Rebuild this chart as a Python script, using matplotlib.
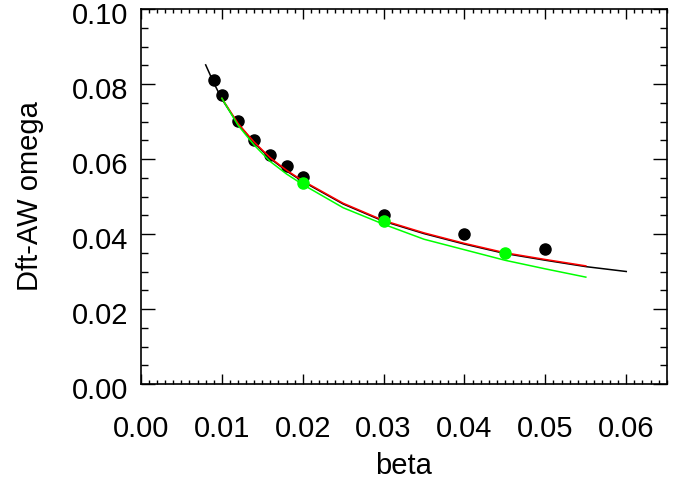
import matplotlib.pyplot as plt
import numpy as np
from matplotlib.ticker import MultipleLocator
from matplotlib.transforms import ScaledTranslation

plt.rcParams['font.family'] = ['Liberation Sans', 'DejaVu Sans']

# measured points
beta_black = [0.009, 0.010, 0.012, 0.014, 0.016, 0.018, 0.020, 0.030, 0.040, 0.050]
omega_black = [0.0812, 0.0771, 0.0701, 0.0651, 0.0610, 0.0582, 0.0552, 0.0451, 0.0400, 0.0359]
beta_green = [0.020, 0.030, 0.045]
omega_green = [0.0536, 0.0435, 0.0350]

# curves
beta_k = [0.008, 0.009, 0.010, 0.012, 0.014, 0.016, 0.018, 0.020, 0.025, 0.030,
          0.035, 0.040, 0.045, 0.050, 0.055, 0.060]
omega_k = [0.0851, 0.0803, 0.0760, 0.0693, 0.0643, 0.0601, 0.0568, 0.0540, 0.0480,
           0.0434, 0.0401, 0.0373, 0.0348, 0.0330, 0.0313, 0.0300]
beta_r = [0.010, 0.012, 0.014, 0.016, 0.018, 0.020, 0.025, 0.030, 0.035, 0.040,
          0.045, 0.050, 0.055]
omega_r = [0.0762, 0.0695, 0.0645, 0.0603, 0.0570, 0.0542, 0.0482, 0.0436, 0.0403,
           0.0375, 0.0350, 0.0332, 0.0315]
beta_g = [0.010, 0.012, 0.014, 0.016, 0.018, 0.020, 0.025, 0.030, 0.035, 0.040,
          0.045, 0.050, 0.055]
omega_g = [0.0762, 0.0690, 0.0637, 0.0593, 0.0560, 0.0532, 0.0470, 0.0426, 0.0386,
           0.0358, 0.0330, 0.0307, 0.0285]

fig = plt.figure(figsize=(6.81, 4.87), dpi=100)
ax = fig.add_axes([0.207, 0.2115, 0.772, 0.770])

ax.plot(beta_black, omega_black, 'o', color='black', ms=8, zorder=2)
ax.plot(beta_k, omega_k, color='black', lw=1.1, zorder=3)
ax.plot(beta_r, omega_r, color='#ff0000', lw=1.1, zorder=4)
ax.plot(beta_g, omega_g, color='#00ff00', lw=1.1, zorder=4)
ax.plot(beta_green, omega_green, 'o', color='#00ff00', ms=8, zorder=5)

ax.set_xlim(0, 0.065)
ax.set_ylim(0, 0.10)
ax.xaxis.set_major_locator(MultipleLocator(0.01))
ax.xaxis.set_minor_locator(MultipleLocator(0.001))
ax.yaxis.set_major_locator(MultipleLocator(0.02))
ax.yaxis.set_minor_locator(MultipleLocator(0.005))
ax.xaxis.set_major_formatter(plt.FormatStrFormatter('%.2f'))
ax.yaxis.set_major_formatter(plt.FormatStrFormatter('%.2f'))

fs = 21
ax.tick_params(which='both', direction='in', top=True, right=True, width=1, color='black')
ax.tick_params(axis='x', which='major', length=7, pad=22, labelsize=fs)
ax.tick_params(axis='x', which='minor', length=3)
ax.tick_params(axis='y', which='major', length=10, pad=9, labelsize=fs)
ax.tick_params(axis='y', which='minor', length=5)
for s in ax.spines.values():
    s.set_linewidth(1.2)

# y tick labels sit a little below their ticks in the original
shift = ScaledTranslation(0, -3 / 72, fig.dpi_scale_trans)
for t in ax.yaxis.get_major_ticks():
    t.label1.set_transform(t.label1.get_transform() + shift)

ax.set_xlabel('beta', fontsize=fs, labelpad=7)
ax.set_ylabel('Dft-AW omega', fontsize=fs, labelpad=20)

fig.savefig('out.png', dpi=100)
